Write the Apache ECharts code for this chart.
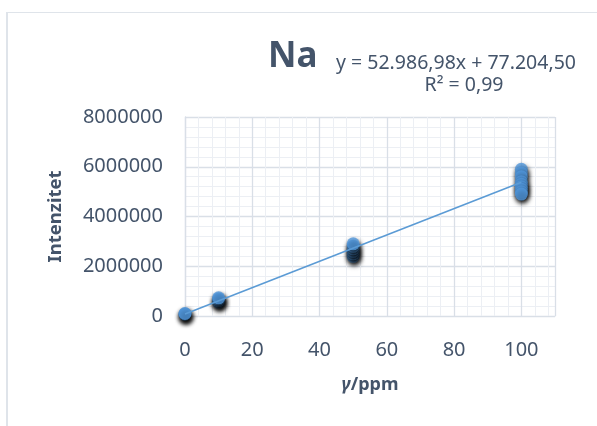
<!DOCTYPE html>
<html>
<head>
<meta charset="utf-8">
<script src="https://cdn.jsdelivr.net/npm/echarts@6/dist/echarts.min.js"></script>
<style>
  html, body { margin: 0; padding: 0; background: #fff; }
  #chart { width: 597px; height: 426px; }
</style>
</head>
<body>
<div id="chart"></div>
<script>
// measured points (γ/ppm, intensity)
const concentrations = [0, 10, 50, 100]
const intensities0 = [60000, 80000, 100000]
const intensities10 = [560000, 620000, 680000, 730000]
const intensities50 = [2400000, 2500000, 2600000, 2700000, 2800000, 2900000]
const intensities100 = [5900000, 5750000, 5600000, 5400000, 5300000, 5200000, 5100000, 5000000, 4900000]

// linear trendline endpoints (y = 52.986,98x + 77.204,50)
const trendX = [0, 100]
const trendY = [77204.5, 5375902.5]

const xTicks = [0, 20, 40, 60, 80, 100]
const yTicks = [0, 2000000, 4000000, 6000000, 8000000]

const TEXT = '#44546a'
const MAJOR = '#d9dfe7'
const MINOR = '#eceff4'
const BLUE = '#5197dc'

const points = []
;[intensities0, intensities10, intensities50, intensities100].forEach((vals, i) => {
  vals.forEach((v) => points.push([concentrations[i], v]))
})

const chart = echarts.init(document.getElementById('chart'))

chart.setOption({
  animation: false,
  textStyle: { fontFamily: 'Noto Sans' },
  grid: { left: 185, right: 42, top: 117, bottom: 110 },
  xAxis: {
    type: 'value',
    min: xTicks[0],
    max: 110,
    interval: xTicks[1] - xTicks[0],
    name: '{i|γ}/ppm',
    nameLocation: 'middle',
    nameGap: 60,
    nameTextStyle: {
      color: TEXT,
      fontSize: 18,
      fontWeight: 'bold',
      rich: { i: { fontStyle: 'italic', fontWeight: 'bold', fontSize: 18, color: TEXT } },
    },
    axisLine: { show: true, lineStyle: { color: MAJOR, width: 1 } },
    axisTick: { show: false },
    axisLabel: { color: TEXT, fontSize: 20, margin: 24, showMaxLabel: false },
    splitLine: { lineStyle: { color: MAJOR, width: 1.3 } },
    minorTick: { show: false, splitNumber: 5 },
    minorSplitLine: { show: true, lineStyle: { color: MINOR, width: 1 } },
  },
  yAxis: {
    type: 'value',
    min: yTicks[0],
    max: yTicks[yTicks.length - 1],
    interval: yTicks[1] - yTicks[0],
    name: 'Intenzitet',
    nameLocation: 'middle',
    nameGap: 120,
    nameTextStyle: { color: TEXT, fontSize: 18.5, fontWeight: 'bold' },
    axisLine: { show: true, lineStyle: { color: MAJOR, width: 1.3 } },
    axisTick: { show: false },
    axisLabel: { color: TEXT, fontSize: 20, margin: 22, formatter: (v) => String(v) },
    splitLine: { lineStyle: { color: MAJOR, width: 1.3 } },
    minorTick: { show: false, splitNumber: 5 },
    minorSplitLine: { show: true, lineStyle: { color: MINOR, width: 1 } },
  },
  graphic: [
    {
      type: 'line',
      silent: true,
      shape: { x1: 7, y1: 12, x2: 7, y2: 426 },
      style: { stroke: '#dfe4ea', lineWidth: 2 },
    },
    {
      type: 'line',
      silent: true,
      shape: { x1: 7, y1: 12.5, x2: 597, y2: 12.5 },
      style: { stroke: '#dfe4ea', lineWidth: 1 },
    },
    {
      type: 'text',
      left: 268,
      top: 40,
      style: { text: 'Na', fill: TEXT, fontSize: 35, fontWeight: 'bold', fontFamily: 'Noto Sans' },
    },
    {
      type: 'text',
      x: 456,
      y: 53,
      style: {
        text: 'y = 52.986,98x + 77.204,50',
        fill: TEXT,
        fontSize: 19.5,
        fontFamily: 'Noto Sans',
        align: 'center',
      },
    },
    {
      type: 'text',
      x: 464,
      y: 75,
      style: {
        text: 'R² = 0,99',
        fill: TEXT,
        fontSize: 19.5,
        fontFamily: 'Noto Sans',
        align: 'center',
      },
    },
  ],
  series: [
    {
      type: 'scatter',
      data: points,
      symbolSize: 13,
      itemStyle: {
        color: BLUE,
        shadowColor: 'rgba(0, 0, 0, 0.95)',
        shadowBlur: 5,
        shadowOffsetX: 1,
        shadowOffsetY: 3,
      },
      z: 2,
    },
    {
      type: 'line',
      data: trendX.map((x, i) => [x, trendY[i]]),
      symbol: 'none',
      lineStyle: { color: '#5b9bd5', width: 1.6 },
      z: 3,
    },
  ],
})
</script>
</body>
</html>
